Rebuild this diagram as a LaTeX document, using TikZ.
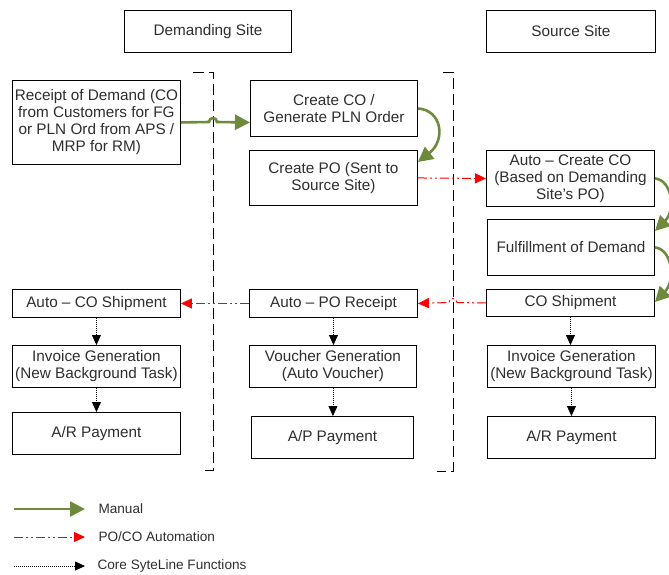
\documentclass[tikz,border=0pt]{standalone}
\usepackage{fontspec}
\setmainfont{Liberation Sans}
\usetikzlibrary{arrows.meta}
\definecolor{txt}{HTML}{2E2E2E}
\definecolor{manualg}{HTML}{6E8B3D}
\tikzset{
  box/.style={draw=black, line width=0.9pt, fill=white, text=txt, align=center, font=\fontsize{15.3}{17}\selectfont, inner sep=0pt, anchor=north west},
  manual/.style={draw=manualg, line width=2.6pt, -{Triangle[length=15pt,width=15pt]}},
  auto/.style={draw=red, line width=1pt, dash pattern=on 9pt off 3pt on 2pt off 3pt on 2pt off 3pt, -{Triangle[length=11pt,width=10pt]}},
  core/.style={draw=black, line width=0.8pt, dash pattern=on 1pt off 1pt, -{Triangle[length=10pt,width=9pt]}},
  sep/.style={draw=black, line width=0.9pt, dash pattern=on 11pt off 5pt},
  legtxt/.style={text=txt, anchor=west, font=\fontsize{13.6}{15}\selectfont}
}
\begin{document}
\begin{tikzpicture}[x=1pt,y=-1pt]
\useasboundingbox (0,0) rectangle (669,574);
% headers
\node[box, minimum width=167pt, minimum height=42pt] (hdem) at (124,10) {Demanding Site};
\node[box, minimum width=169pt, minimum height=42pt] (hsrc) at (486,10) {Source Site};
% separators
\draw[sep] (193,72) -- (213,72) -- (213,470) -- (205,470);
\draw[sep] (443,72) -- (453,72) -- (453,471) -- (437,471);
% boxes
\node[box, minimum width=168pt, minimum height=84pt] (rec) at (12,80) {Receipt of Demand (CO\\from Customers for FG\\or PLN Ord from APS /\\MRP for RM)};
\node[box, minimum width=167pt, minimum height=56pt] (cco) at (250,80) {Create CO /\\Generate PLN Order};
\node[box, minimum width=168pt, minimum height=55pt] (cpo) at (249,150) {Create PO (Sent to\\Source Site)};
\node[box, minimum width=168pt, minimum height=56pt] (acco) at (486,150) {Auto -- Create CO\\(Based on Demanding\\Site's PO)};
\node[box, minimum width=167pt, minimum height=56pt] (ful) at (487,219) {Fulfillment of Demand};
\node[box, minimum width=168pt, minimum height=27pt] (cosh) at (486,289) {CO Shipment};
\node[box, minimum width=168pt, minimum height=28pt] (acosh) at (12,289) {Auto -- CO Shipment};
\node[box, minimum width=168pt, minimum height=28pt] (apor) at (249,289) {Auto -- PO Receipt};
\node[box, minimum width=168pt, minimum height=42pt] (invl) at (12,345) {Invoice Generation\\(New Background Task)};
\node[box, minimum width=167pt, minimum height=42pt] (vouch) at (249,345) {Voucher Generation\\(Auto Voucher)};
\node[box, minimum width=168pt, minimum height=42pt] (arl) at (12,412) {A/R Payment};
\node[box, minimum width=162pt, minimum height=42pt] (ap) at (251,416) {A/P Payment};
\node[box, minimum width=168pt, minimum height=42pt] (invr) at (487,345) {Invoice Generation\\(New Background Task)};
\node[box, minimum width=168pt, minimum height=42pt] (arr) at (487,416) {A/R Payment};
% manual arrows
\draw[manual] (rec.east) -- (209,122) arc[start angle=180, end angle=360, radius=4] -- (cco.west |- rec.east);
\draw[manual] (cco.east) .. controls (442,110) and (446,140) .. (cpo.north east |- 0,162);
\draw[manual] (acco.east) .. controls (672,180) and (676,210) .. (655,231);
\draw[manual] (ful.east) .. controls (672,249) and (676,280) .. (655,302);
% automation arrows
\draw[auto] (cpo.east) -- (acco.west);
\draw[auto] (cosh.west) -- (457,302.5) arc[start angle=0, end angle=-180, radius=4] -- (apor.east);
\draw[auto] (apor.west) -- (acosh.east);
% core arrows
\draw[core] (acosh.south) -- (invl.north);
\draw[core] (invl.south) -- (arl.north);
\draw[core] (apor.south) -- (vouch.north -| apor.south);
\draw[core] (vouch.south) -- (ap.north -| vouch.south);
\draw[core] (cosh.south) -- (invr.north -| cosh.south);
\draw[core] (invr.south) -- (arr.north -| invr.south);
% legend
\coordinate (l1a) at (14,509); \coordinate (l1b) at (85,509);
\coordinate (l2a) at (14,537); \coordinate (l2b) at (85,537);
\coordinate (l3a) at (14,566); \coordinate (l3b) at (85,566);
\draw[manual] (l1a) -- (l1b);
\draw[auto] (l2a) -- (l2b);
\draw[core] (l3a) -- (l3b);
\node[legtxt] (t1) at (95,509) {Manual};
\node[legtxt] (t2) at (95,537) {PO/CO Automation};
\node[legtxt] (t3) at (94,566) {Core SyteLine Functions};
\end{tikzpicture}
\end{document}
